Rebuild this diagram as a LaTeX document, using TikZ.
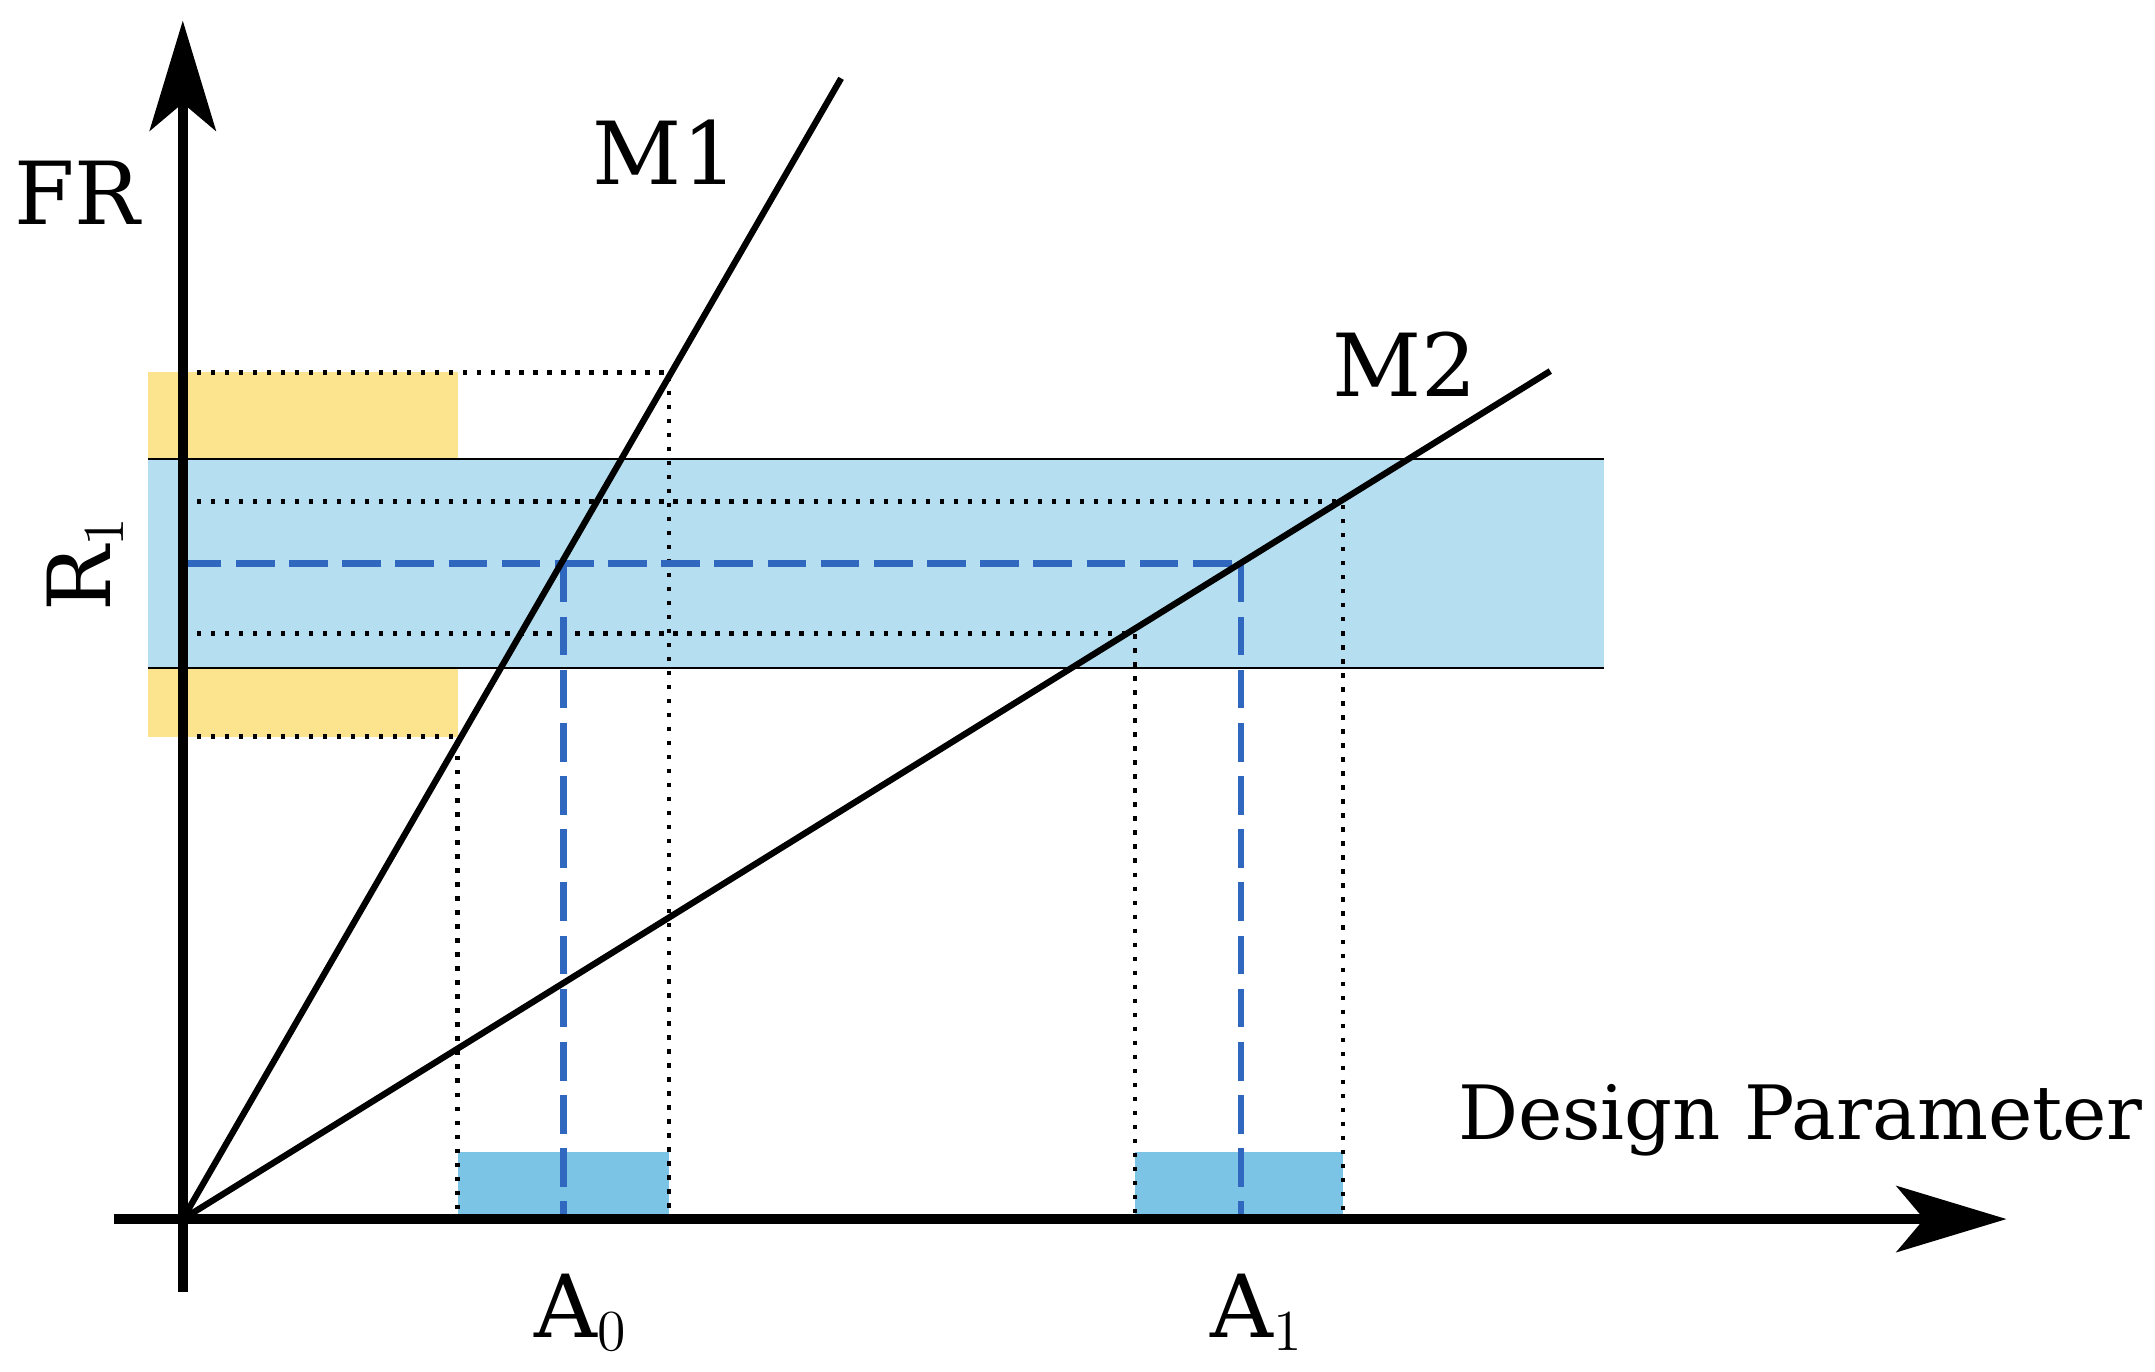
\documentclass[tikz,border=0pt]{standalone}
\usepackage{fontspec}
\setmainfont{DejaVu Serif}
\usetikzlibrary{arrows.meta}
\definecolor{bandblue}{HTML}{B5DFF0}
\definecolor{yel}{HTML}{FCE48E}
\definecolor{dblue}{HTML}{3068C0}
\definecolor{sblue}{HTML}{7CC4E6}
\begin{document}
\begin{tikzpicture}[x=0.01cm,y=-0.01cm,
  dot/.style={black,line width=0.9pt,dotted},
  dsh/.style={dblue,line width=1.3pt,dash pattern=on 8pt off 3pt},
  lbl/.style={font=\fontsize{18}{21}\selectfont,inner sep=0pt}]
\useasboundingbox (0,0) rectangle (1568,997.6);
% fills
\fill[yel] (108,271) rectangle (333,536);
\fill[bandblue] (108,334) rectangle (1167,486);
\draw[line width=0.5pt] (108,334) -- (1167,334) (108,486) -- (1167,486);
\fill[sblue] (333,838) rectangle (487,887);
\fill[sblue] (826,838) rectangle (977,887);
% dotted
\draw[dot] (133,271) -- (487,271) -- (487,887);
\draw[dot] (133,536) -- (333,536) -- (333,887);
\draw[dot] (133,365) -- (977,365) -- (977,887);
\draw[dot] (133,461) -- (826,461) -- (826,887);
% dashed
\draw[dsh] (133,410) -- (903,410);
\draw[dsh] (410,410) -- (410,887);
\draw[dsh] (903,410) -- (903,887);
% lines
\coordinate (O) at (133,887);
\coordinate (m1) at (612,57);
\coordinate (m2) at (1128,270);
\draw[line width=1.3pt] (O) -- (m1);
\draw[line width=1.3pt] (O) -- (m2);
% axes
\coordinate (xs) at (83,887); \coordinate (xe) at (1460,887);
\coordinate (ys) at (133,940); \coordinate (ye) at (133,15);
\draw[line width=2pt,-{Stealth[length=0.8cm,width=0.48cm,inset=0.2cm]}] (xs) -- (xe);
\draw[line width=2pt,-{Stealth[length=0.8cm,width=0.48cm,inset=0.2cm]}] (ys) -- (ye);
% labels
\node[lbl] (fr) at (56,140) {FR};
\node[lbl] (M1) at (484,111) {M1};
\node[lbl] (M2) at (1022,265) {M2};
\node[lbl,rotate=90] (r1) at (62,410) {R$_1$};
\node[lbl] (a0) at (423,955) {A$_0$};
\node[lbl] (a1) at (915,955) {A$_1$};
\node[lbl,font=\fontsize{15.5}{18}\selectfont] (dp) at (1310,815) {Design Parameter};
\end{tikzpicture}
\end{document}
